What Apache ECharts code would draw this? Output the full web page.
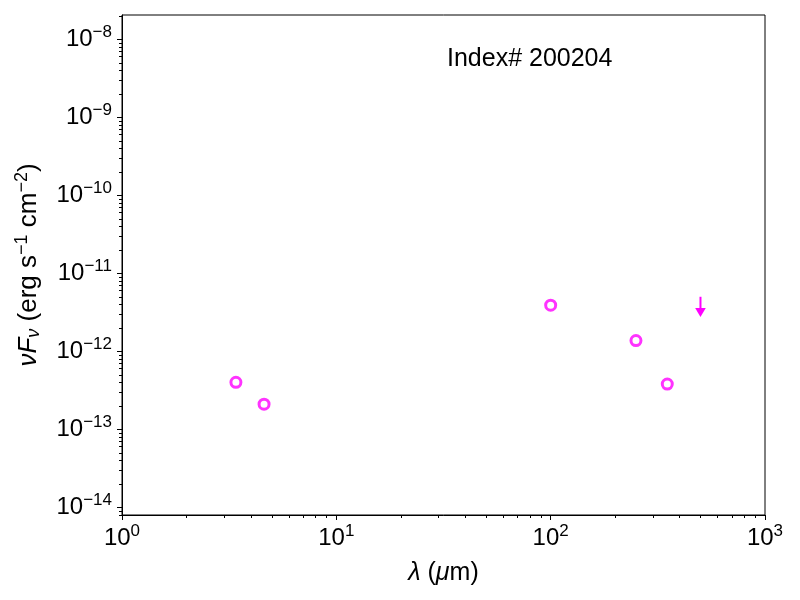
<!DOCTYPE html>
<html>
<head>
    <meta charset="utf-8" />
    <title>SED Index# 200204</title>
    <script src="https://cdn.jsdelivr.net/npm/echarts@6.0.0/dist/echarts.min.js"></script>
    <style>
        body, html {
            margin: 0;
            padding: 0;
            background: #fff;
        }
        #main {
            width: 800px;
            height: 600px;
        }
    </style>
</head>
<body>
<div id="main"></div>
<script type="text/javascript">
    // photometry points (wavelength in micron, nuFnu in erg/s/cm2)
    var wavelength = [3.4, 4.6, 100, 250, 350];
    var nuFnu = [4.0e-13, 2.1e-13, 3.9e-12, 1.37e-12, 3.8e-13];

    // upper limit: arrow from limitTop down to limitTip
    var limitWavelength = [500];
    var limitTop = [5.0e-12];
    var limitTip = [2.75e-12];

    // axis ranges and tick values
    var xMin = 1, xMax = 1000;
    var yMin = 7.96e-15, yMax = 2.05e-8;
    var xMajor = [1, 10, 100, 1000];
    var yMajor = [1e-14, 1e-13, 1e-12, 1e-11, 1e-10, 1e-9, 1e-8];

    var titleText = 'Index# 200204';
    var color = '#ff00ff';
    var font = '"Liberation Sans", Arial, Helvetica, sans-serif';

    function minorTicks(d0, d1, lo, hi) {
        var out = [];
        for (var d = d0; d <= d1; d++) {
            for (var k = 2; k <= 9; k++) {
                var v = Number(k + 'e' + d);
                if (v > lo && v < hi) out.push(v);
            }
        }
        return out;
    }
    var xMinor = minorTicks(0, 2, xMin, xMax);
    var yMinor = minorTicks(-15, -8, yMin, yMax);

    function powLabel(v) {
        var e = Math.round(Math.log10(v));
        return '{b|10}{sup|' + String(e).replace('-', '\u2212') + '}';
    }

    var labelRich = {
        b: { fontSize: 24, fontFamily: font, color: '#000' },
        sup: { fontSize: 17, fontFamily: font, color: '#000', padding: [0, 0, 14, 0] }
    };

    var chart = echarts.init(document.getElementById('main'));

    var option = {
        animation: false,
        backgroundColor: '#fff',
        title: {
            text: titleText,
            left: 442,
            top: 42,
            textStyle: { fontSize: 25, fontWeight: 'normal', fontFamily: font, color: '#000' }
        },
        grid: {
            left: 122,
            right: 35,
            top: 15,
            bottom: 85,
            show: true,
            borderColor: '#000',
            borderWidth: 1
        },
        xAxis: [
            {
                type: 'log',
                min: xMin,
                max: xMax,
                logBase: 10,
                name: '{i|\u03bb} ({i|\u03bc}m)',
                nameLocation: 'middle',
                nameGap: 46,
                nameTextStyle: {
                    fontSize: 25, fontFamily: font, color: '#000',
                    rich: { i: { fontSize: 25, fontFamily: font, fontStyle: 'italic', color: '#000' } }
                },
                axisLine: { lineStyle: { color: '#000', width: 1 } },
                axisTick: { show: true, inside: false, length: 5, customValues: xMajor, lineStyle: { color: '#000' } },
                axisLabel: { customValues: xMajor, formatter: powLabel, rich: labelRich, margin: 8 },
                splitLine: { show: false }
            },
            {
                // minor ticks
                type: 'log',
                min: xMin,
                max: xMax,
                position: 'bottom',
                axisLine: { show: false },
                axisTick: { show: true, length: 3, customValues: xMinor, lineStyle: { color: '#000' } },
                axisLabel: { show: false },
                splitLine: { show: false }
            }
        ],
        yAxis: [
            {
                type: 'log',
                min: yMin,
                max: yMax,
                logBase: 10,
                name: '{i|\u03bdF}{sub|\u03bd} (erg s{sup|\u22121} cm{sup|\u22122})',
                nameLocation: 'middle',
                nameGap: 78,
                nameTextStyle: {
                    fontSize: 26, fontFamily: font, color: '#000',
                    rich: {
                        i: { fontSize: 26, fontFamily: font, fontStyle: 'italic', color: '#000' },
                        sub: { fontSize: 18, fontFamily: font, fontStyle: 'italic', color: '#000', padding: [10, 0, 0, 0] },
                        sup: { fontSize: 18, fontFamily: font, color: '#000', padding: [0, 0, 13, 0] }
                    }
                },
                axisLine: { show: true, lineStyle: { color: '#000', width: 1 } },
                axisTick: { show: true, length: 5, customValues: yMajor, lineStyle: { color: '#000' } },
                axisLabel: { customValues: yMajor, formatter: powLabel, rich: labelRich, margin: 10 },
                splitLine: { show: false }
            },
            {
                // minor ticks
                type: 'log',
                min: yMin,
                max: yMax,
                position: 'left',
                axisLine: { show: false },
                axisTick: { show: true, length: 3, customValues: yMinor, lineStyle: { color: '#000' } },
                axisLabel: { show: false },
                splitLine: { show: false }
            }
        ],
        series: [
            {
                type: 'scatter',
                data: wavelength.map(function (w, i) { return [w, nuFnu[i]]; }),
                symbol: 'circle',
                symbolSize: 10,
                itemStyle: { color: '#fff', borderColor: color, borderWidth: 3 },
                z: 5
            },
            {
                type: 'custom',
                data: limitWavelength.map(function (w, i) { return [w, limitTop[i], limitTip[i]]; }),
                renderItem: function (params, api) {
                    var top = api.coord([api.value(0), api.value(1)]);
                    var tip = api.coord([api.value(0), api.value(2)]);
                    return {
                        type: 'group',
                        children: [
                            {
                                type: 'line',
                                shape: { x1: top[0], y1: top[1], x2: tip[0], y2: tip[1] - 8 },
                                style: { stroke: color, lineWidth: 2 }
                            },
                            {
                                type: 'polygon',
                                shape: { points: [[tip[0] - 5.3, tip[1] - 9], [tip[0] + 5.3, tip[1] - 9], [tip[0], tip[1]]] },
                                style: { fill: color }
                            }
                        ]
                    };
                },
                z: 5
            }
        ]
    };
    chart.setOption(option);
</script>
</body>
</html>
